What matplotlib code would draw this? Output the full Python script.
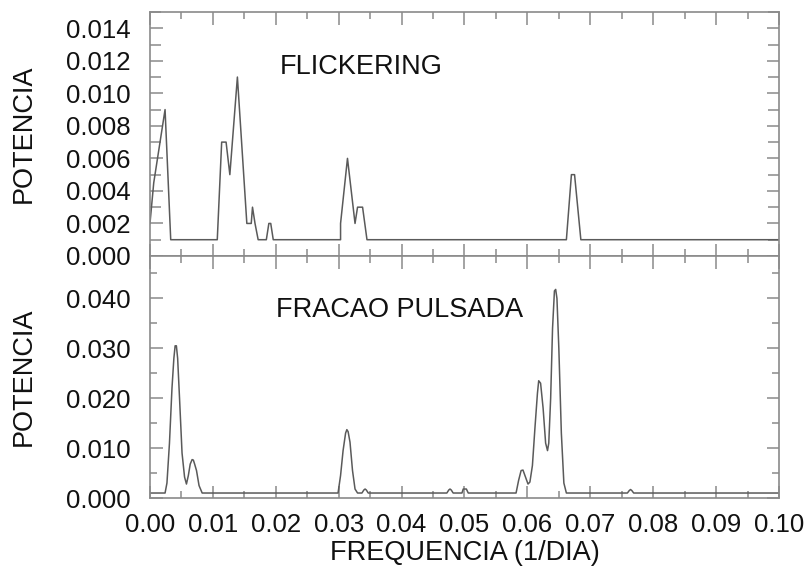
import matplotlib
matplotlib.use('Agg')
import matplotlib.pyplot as plt
from matplotlib.ticker import MultipleLocator, FormatStrFormatter

# espectro de potencia - flickering
flick_freq = [0.0, 0.0006, 0.0024, 0.0033, 0.0107, 0.0114, 0.0121, 0.0127, 0.0139, 0.0154,
              0.0161, 0.0163, 0.0167, 0.0172, 0.0185, 0.0189, 0.0192, 0.0196, 0.0303, 0.0303,
              0.0314, 0.0326, 0.0330, 0.0338, 0.0345, 0.0662, 0.0670, 0.0675, 0.0685, 0.1]
flick_pot = [0.002, 0.0045, 0.009, 0.001, 0.001, 0.007, 0.007, 0.005, 0.011, 0.002,
             0.002, 0.003, 0.002, 0.001, 0.001, 0.002, 0.002, 0.001, 0.001, 0.002,
             0.006, 0.002, 0.003, 0.003, 0.001, 0.001, 0.005, 0.005, 0.001, 0.001]

# espectro de potencia - fracao pulsada
puls_freq = [0.0, 0.0024, 0.0027, 0.0031, 0.0035, 0.0038, 0.0040, 0.0042, 0.0044, 0.0047,
             0.0051, 0.0055, 0.0058, 0.0061, 0.0064, 0.0067, 0.0069, 0.0071, 0.0074,
             0.0078, 0.0083,
             0.0299, 0.0303, 0.0307, 0.0311, 0.0313, 0.0315, 0.0318, 0.0322, 0.0326, 0.0330,
             0.0337, 0.0340, 0.0342, 0.0344, 0.0347,
             0.0472, 0.0475, 0.0477, 0.0479, 0.0482,
             0.0496, 0.0498, 0.0500, 0.0503, 0.0506,
             0.0582, 0.0586, 0.0590, 0.0593, 0.0597, 0.0601, 0.0604,
             0.0608, 0.0612, 0.0616, 0.0618, 0.0621, 0.0625, 0.0629, 0.0632, 0.0634,
             0.0637, 0.0640, 0.0643, 0.0645, 0.0647, 0.0650, 0.0654, 0.0658, 0.0662,
             0.0759, 0.0762, 0.0764, 0.0766, 0.0769, 0.1]
puls_pot = [0.001, 0.001, 0.003, 0.011, 0.022, 0.028, 0.0305, 0.0305, 0.028, 0.020,
            0.009, 0.0042, 0.0028, 0.0045, 0.0068, 0.0077, 0.0076, 0.0068, 0.0055,
            0.0025, 0.001,
            0.001, 0.0045, 0.0095, 0.013, 0.0137, 0.0133, 0.0112, 0.0055, 0.0018, 0.001,
            0.001, 0.0016, 0.0018, 0.0016, 0.001,
            0.001, 0.0016, 0.0018, 0.0016, 0.001,
            0.001, 0.0018, 0.0018, 0.0018, 0.001,
            0.001, 0.0035, 0.0055, 0.0056, 0.0042, 0.0028, 0.0032,
            0.0065, 0.014, 0.021, 0.0235, 0.0230, 0.018, 0.011, 0.0095, 0.011,
            0.020, 0.034, 0.0415, 0.0418, 0.040, 0.030, 0.013, 0.003, 0.001,
            0.001, 0.0015, 0.0017, 0.0015, 0.001, 0.001]

plt.rcParams['font.family'] = ['Liberation Sans', 'DejaVu Sans']

frame = '#8a8a8a'
linecol = '#5a5a5a'

fig = plt.figure(figsize=(8.08, 5.76), dpi=100)
ax1 = fig.add_axes([0.1856, 0.5556, 0.7785, 0.4236])
ax2 = fig.add_axes([0.1856, 0.1354, 0.7785, 0.4202])

ax1.plot(flick_freq, flick_pot, color=linecol, lw=1.1)
ax2.plot(puls_freq, puls_pot, color=linecol, lw=1.1)

ax1.set_ylim(0, 0.015)
ax2.set_ylim(0, 0.0485)

for ax in (ax1, ax2):
    ax.set_xlim(0, 0.1)
    ax.xaxis.set_major_locator(MultipleLocator(0.01))
    ax.xaxis.set_minor_locator(MultipleLocator(0.005))
    for s in ax.spines.values():
        s.set_color(frame)
        s.set_linewidth(1.2)
    ax.tick_params(which='both', direction='in', top=True, right=True,
                   color=frame, width=1.1, labelsize=18.5, labelcolor='#111111')
    ax.tick_params(axis='y', which='both', pad=14)
    ax.tick_params(axis='x', which='both', pad=11)
    ax.tick_params(which='major', length=9)

ax1.yaxis.set_major_locator(MultipleLocator(0.002))
ax1.yaxis.set_minor_locator(MultipleLocator(0.001))
ax1.yaxis.set_major_formatter(FormatStrFormatter('%.3f'))
ax1.tick_params(axis='y', which='minor', length=8)
ax1.tick_params(axis='x', which='minor', length=5)
ax1.tick_params(axis='x', labelbottom=False)

ax2.yaxis.set_major_locator(MultipleLocator(0.01))
ax2.yaxis.set_minor_locator(MultipleLocator(0.005))
ax2.yaxis.set_major_formatter(FormatStrFormatter('%.3f'))
ax2.xaxis.set_major_formatter(FormatStrFormatter('%.2f'))
ax2.tick_params(which='minor', length=5)

ax1.text(0.335, 0.775, 'FLICKERING', transform=ax1.transAxes,
         ha='center', va='center', fontsize=19.5, color='#111111')
ax2.text(0.3975, 0.778, 'FRACAO PULSADA', transform=ax2.transAxes,
         ha='center', va='center', fontsize=19.5, color='#111111')

fig.text(24 / 808, 1 - 134 / 576, 'POTENCIA', rotation=90, ha='center', va='center',
         fontsize=19.5, color='#111111')
fig.text(24 / 808, 1 - 377 / 576, 'POTENCIA', rotation=90, ha='center', va='center',
         fontsize=19.5, color='#111111')
fig.text(465 / 808, 1 - 553 / 576, 'FREQUENCIA (1/DIA)', ha='center', va='center',
         fontsize=19.5, color='#111111')

fig.savefig('out.png', dpi=100)
